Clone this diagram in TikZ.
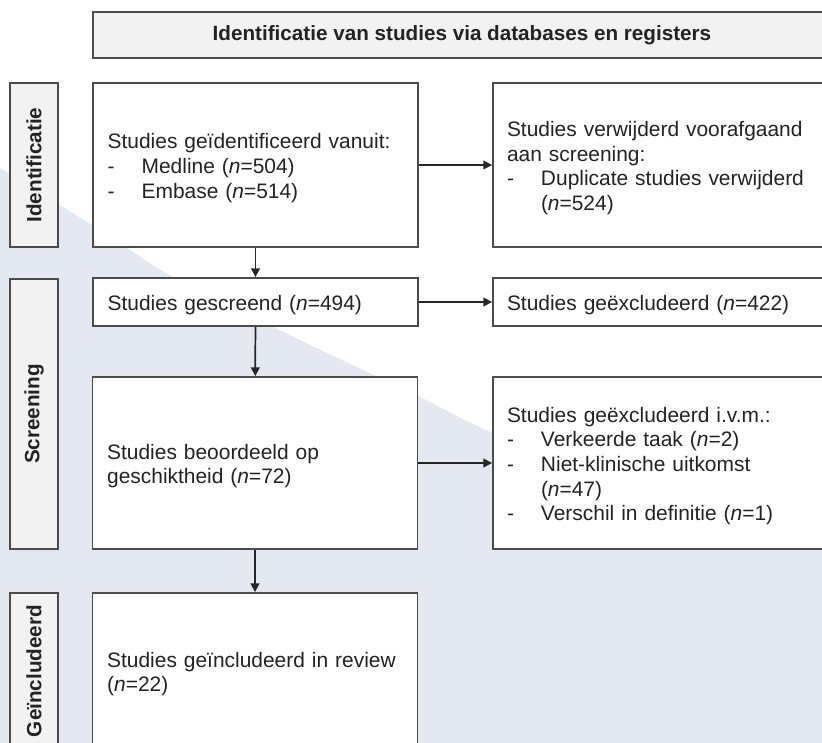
\documentclass[tikz,border=0pt]{standalone}
\usepackage{fontspec}
\setmainfont{Liberation Sans}
\usetikzlibrary{arrows.meta}
\definecolor{bgblue}{RGB}{228,233,241}
\definecolor{boxgray}{RGB}{242,242,242}
\definecolor{edgegray}{RGB}{75,75,75}
\definecolor{txt}{RGB}{35,35,35}
\newlength\bind \setlength\bind{25.5pt}
\newcommand\bl[1]{\makebox[\bind][l]{-}#1}
\newcommand\tup{\rule{0pt}{16pt}}
\begin{document}
\begin{tikzpicture}[x=0.75pt,y=-0.75pt,
  basefont/.style={font=\fontsize{15.7}{18.4}\selectfont},
  lbl/.style={draw=edgegray, line width=1.35pt, fill=boxgray, rotate=90,
     minimum height=36pt, inner sep=0pt, text=txt,
     font=\bfseries\fontsize{15.5}{18.4}\selectfont},
  mainbox/.style={draw=edgegray, line width=1.35pt, fill=white, basefont, text=txt,
     minimum width=243.75pt, text width=221.75pt, inner xsep=11pt, align=left},
  sidebox/.style={draw=edgegray, line width=1.35pt, fill=white, basefont, text=txt,
     minimum width=253.5pt, text width=232.5pt, inner xsep=10.5pt, align=left},
  arr/.style={draw=black!85, line width=1.3pt, -{Triangle[length=6.5pt,width=6.5pt]}}]
\useasboundingbox (0,0) rectangle (822,743);
\begin{scope}
\clip (0,0) rectangle (822,743);
\fill[bgblue] plot[smooth] coordinates {(0,168) (100,230) (173,277) (300,340) (418,396) (491,432) (660,500) (840,548)}
  -- (840,760) -- (0,760) -- cycle;

\node[draw=edgegray, line width=1.35pt, fill=boxgray, minimum width=553.5pt, minimum height=34.5pt,
  text=txt, font=\bfseries\fontsize{15.5}{18.4}\selectfont] (title) at (462,35)
  {Identificatie van studies via databases en registers};

\node[lbl, minimum width=123pt] (lid) at (34,165) {Identificatie};
\node[lbl, minimum width=202.5pt] (lsc) at (34,414) {Screening};
\node[lbl, minimum width=117pt] (lin) at (34,671) {Geïncludeerd};

\node[mainbox, minimum height=123pt] (b1) at (255.5,165)
  {\tup Studies geïdentificeerd vanuit:\\\bl{Medline (\textit{n}=504)}\\\bl{Embase (\textit{n}=514)}};
\node[mainbox, minimum height=36pt] (b2) at (255.5,302)
  {\tup Studies gescreend (\textit{n}=494)};
\node[mainbox, minimum height=129pt] (b3) at (255,463)
  {\tup Studies beoordeeld op\\geschiktheid (\textit{n}=72)};
\node[mainbox, minimum height=117pt] (b4) at (255,671)
  {\tup Studies geïncludeerd in review\\(\textit{n}=22)};

\node[sidebox, minimum height=123pt] (r1) at (662,165)
  {\tup Studies verwijderd voorafgaand\\aan screening:\\\bl{Duplicate studies verwijderd}\\\hspace*{\bind}(\textit{n}=524)};
\node[sidebox, minimum height=36pt] (r2) at (662,302)
  {\tup Studies geëxcludeerd (\textit{n}=422)};
\node[sidebox, minimum height=129pt] (r3) at (662,463)
  {\tup Studies geëxcludeerd i.v.m.:\\\bl{Verkeerde taak (\textit{n}=2)}\\\bl{Niet-klinische uitkomst}\\\hspace*{\bind}(\textit{n}=47)\\\bl{Verschil in definitie (\textit{n}=1)}};

\draw[arr] (b1) -- (b2);
\draw[arr] (b2) -- (b3);
\draw[arr] (b3) -- (b4);
\draw[arr] (b1) -- (r1);
\draw[arr] (b2) -- (r2);
\draw[arr] (b3) -- (r3);
\end{scope}
\end{tikzpicture}
\end{document}
